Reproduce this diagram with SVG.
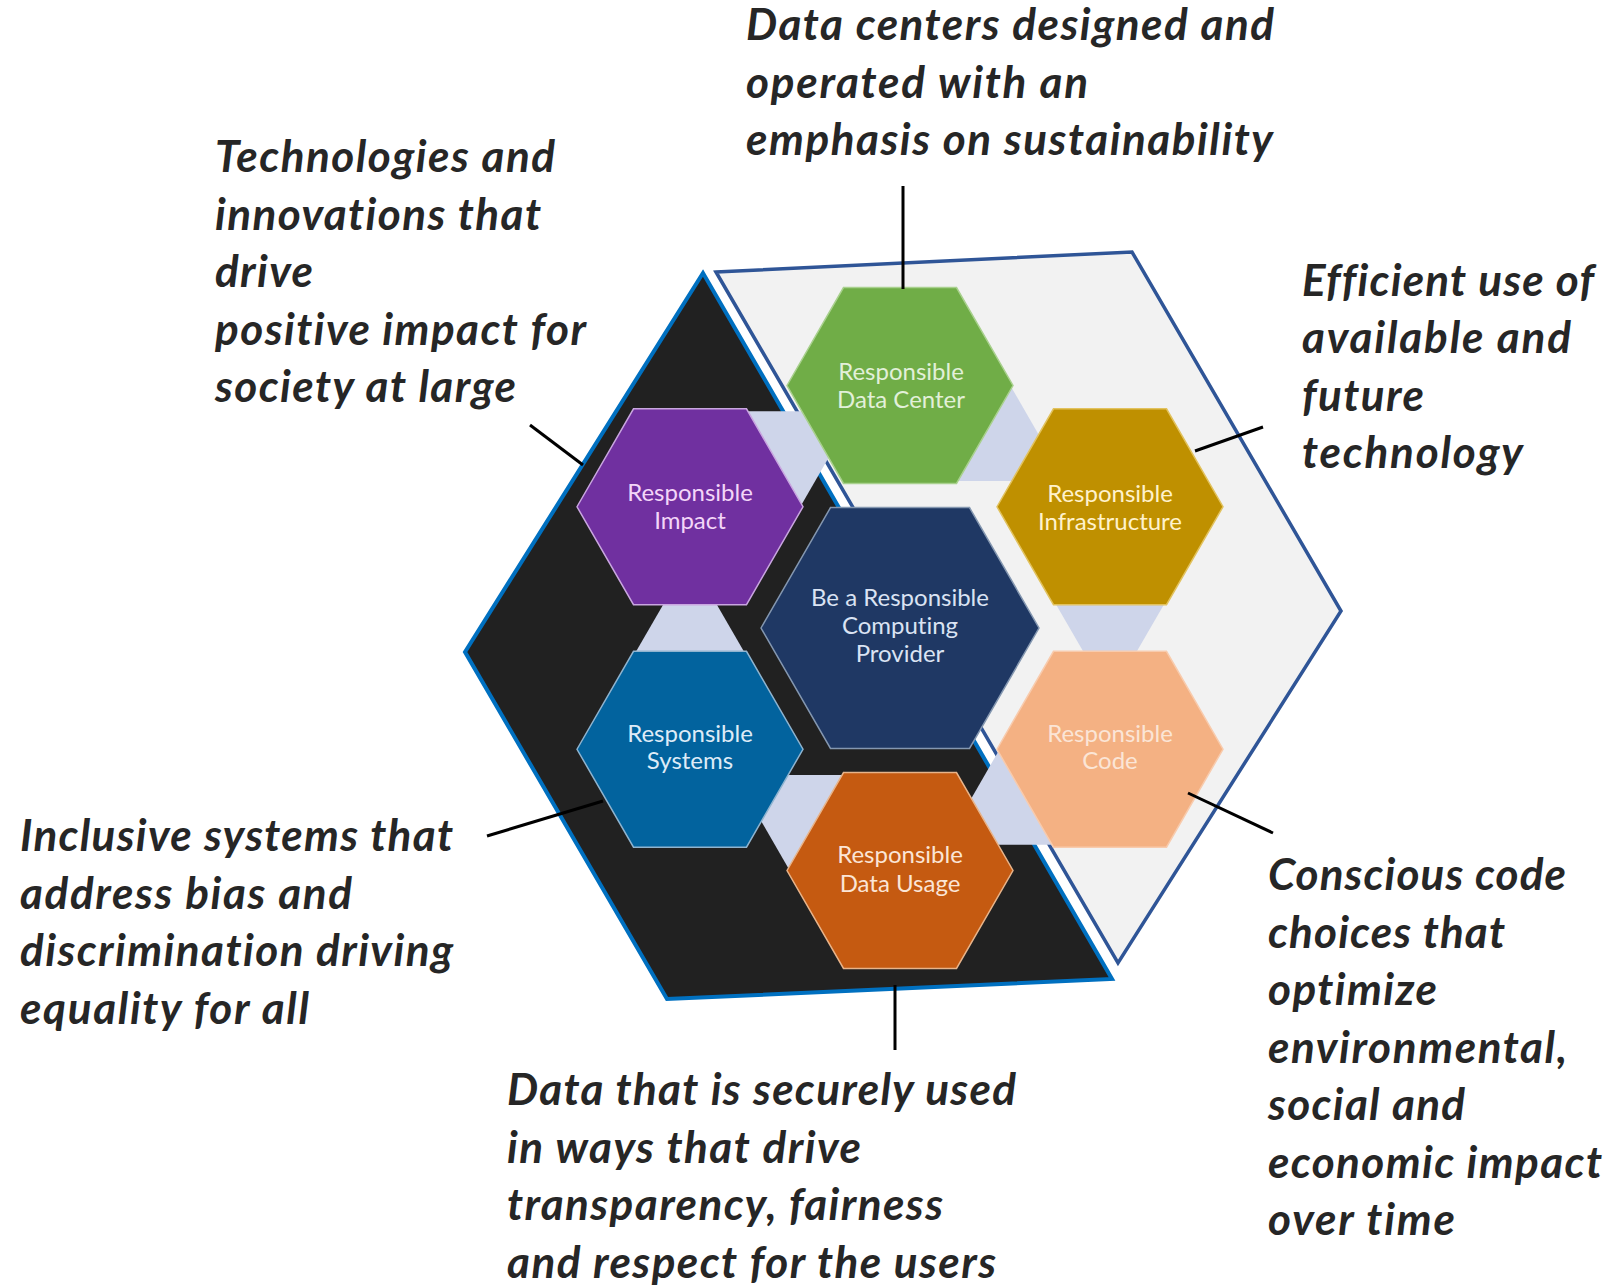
<svg xmlns="http://www.w3.org/2000/svg" xmlns:xlink="http://www.w3.org/1999/xlink" width="1610" height="1288" viewBox="0 0 1610 1288">
<style>
.note{font-family:Lato,"Open Sans","Liberation Sans",sans-serif;font-weight:bold;font-style:italic;font-size:44px;fill:#262626;font-variant-ligatures:none}
.lbl{font-family:Lato,"Open Sans","Liberation Sans",sans-serif;font-size:24px;text-anchor:middle;font-variant-ligatures:none}
.lead{stroke:#000;stroke-width:3;fill:none}
.conn{fill:#CED5EA}
</style>
<defs>
<polygon id="hexS" points="-113,0 -56.5,-97.9 56.5,-97.9 113,0 56.5,97.9 -56.5,97.9"/>
<polygon id="hexL" points="-139,0 -69.5,-120.4 69.5,-120.4 139,0 69.5,120.4 -69.5,120.4"/>
<polygon id="conn" points="-25.3,-26 25.3,-26 55.4,26 -55.4,26"/>
</defs>
<rect width="1610" height="1288" fill="#fff"/>
<g id="background">
<polygon points="716,272 1132,252 1341,611 1118,963" fill="#F2F2F2" stroke="#2F5597" stroke-width="3.5" stroke-linejoin="miter"/>
<polygon points="703,273 465,652 667,999 1112,979" fill="#212121" stroke="#0070C0" stroke-width="4" stroke-linejoin="miter"/>
</g>
<g id="hex-links">
<use xlink:href="#conn" class="conn" transform="rotate(0 900 628) translate(690 628)"/>
<use xlink:href="#conn" class="conn" transform="rotate(60 900 628) translate(690 628)"/>
<use xlink:href="#conn" class="conn" transform="rotate(120 900 628) translate(690 628)"/>
<use xlink:href="#conn" class="conn" transform="rotate(180 900 628) translate(690 628)"/>
<use xlink:href="#conn" class="conn" transform="rotate(240 900 628) translate(690 628)"/>
<use xlink:href="#conn" class="conn" transform="rotate(300 900 628) translate(690 628)"/>
</g>
<g id="node-center">
<use xlink:href="#hexL" x="900" y="628" fill="#1F3864" stroke="#8497B0" stroke-width="1.5"/>
<text class="lbl" fill="#DAE3F3"><tspan x="900" y="606">Be a Responsible</tspan><tspan x="900" y="634">Computing</tspan><tspan x="900" y="662">Provider</tspan></text>
</g>
<g id="node-datacenter">
<use xlink:href="#hexS" x="900" y="385.5" fill="#70AD47" stroke="#A9D18E" stroke-width="1.5"/>
<text class="lbl" fill="#E2F0D9"><tspan x="901" y="380">Responsible</tspan><tspan x="901" y="407.5">Data Center</tspan></text>
</g>
<g id="node-infrastructure">
<use xlink:href="#hexS" x="1110" y="506.75" fill="#BF9000" stroke="#E2C25E" stroke-width="1.5"/>
<text class="lbl" fill="#FFF2CC"><tspan x="1110" y="502">Responsible</tspan><tspan x="1110" y="530">Infrastructure</tspan></text>
</g>
<g id="node-code">
<use xlink:href="#hexS" x="1110" y="749.25" fill="#F4B183" stroke="#F8CBAD" stroke-width="1.5"/>
<text class="lbl" fill="#FBE5D6"><tspan x="1110" y="742">Responsible</tspan><tspan x="1110" y="769">Code</tspan></text>
</g>
<g id="node-datausage">
<use xlink:href="#hexS" x="900" y="870.5" fill="#C55A11" stroke="#E8B48A" stroke-width="1.5"/>
<text class="lbl" fill="#FBE5D6"><tspan x="900" y="863">Responsible</tspan><tspan x="900" y="891.5">Data Usage</tspan></text>
</g>
<g id="node-systems">
<use xlink:href="#hexS" x="690" y="749.25" fill="#02639E" stroke="#8FB4D0" stroke-width="1.5"/>
<text class="lbl" fill="#DEEBF7"><tspan x="690" y="742">Responsible</tspan><tspan x="690" y="769">Systems</tspan></text>
</g>
<g id="node-impact">
<use xlink:href="#hexS" x="690" y="506.75" fill="#7030A0" stroke="#C9A6E0" stroke-width="1.5"/>
<text class="lbl" fill="#F3D6F8"><tspan x="690" y="501">Responsible</tspan><tspan x="690" y="529">Impact</tspan></text>
</g>
<g id="connectors">
<line class="lead" x1="903" y1="186" x2="903" y2="289"/>
<line class="lead" x1="530" y1="425" x2="583" y2="465"/>
<line class="lead" x1="1195" y1="451" x2="1263" y2="427"/>
<line class="lead" x1="487" y1="836" x2="603" y2="801"/>
<line class="lead" x1="895" y1="985" x2="895" y2="1050"/>
<line class="lead" x1="1188" y1="793" x2="1273" y2="833"/>
</g>
<g id="note-datacenter">
<text class="note"><tspan x="746" y="40" textLength="528">Data centers designed and</tspan><tspan x="746" y="97.5" textLength="342">operated with an</tspan><tspan x="746" y="155" textLength="527">emphasis on sustainability</tspan></text>
</g>
<g id="note-impact">
<text class="note"><tspan x="215" y="172" textLength="340">Technologies and</tspan><tspan x="215" y="229.5" textLength="326">innovations that</tspan><tspan x="215" y="287" textLength="98">drive</tspan><tspan x="215" y="344.5" textLength="371">positive impact for</tspan><tspan x="215" y="402" textLength="301">society at large</tspan></text>
</g>
<g id="note-infrastructure">
<text class="note"><tspan x="1302" y="295.5" textLength="292">Efficient use of</tspan><tspan x="1302" y="353" textLength="269">available and</tspan><tspan x="1302" y="410.5" textLength="122">future</tspan><tspan x="1302" y="468" textLength="221">technology</tspan></text>
</g>
<g id="note-systems">
<text class="note"><tspan x="20" y="851" textLength="433">Inclusive systems that</tspan><tspan x="20" y="908.5" textLength="332">address bias and</tspan><tspan x="20" y="966" textLength="433">discrimination driving</tspan><tspan x="20" y="1023.5" textLength="289">equality for all</tspan></text>
</g>
<g id="note-datausage">
<text class="note"><tspan x="507" y="1105" textLength="509">Data that is securely used</tspan><tspan x="507" y="1162.5" textLength="354">in ways that drive</tspan><tspan x="507" y="1220" textLength="436">transparency, fairness</tspan><tspan x="507" y="1277.5" textLength="489">and respect for the users</tspan></text>
</g>
<g id="note-code">
<text class="note"><tspan x="1268" y="890" textLength="298">Conscious code</tspan><tspan x="1268" y="947.5" textLength="237">choices that</tspan><tspan x="1268" y="1005" textLength="169">optimize</tspan><tspan x="1268" y="1062.5" textLength="299">environmental,</tspan><tspan x="1268" y="1120" textLength="197">social and</tspan><tspan x="1268" y="1177.5" textLength="334">economic impact</tspan><tspan x="1268" y="1235" textLength="187">over time</tspan></text>
</g>
</svg>
